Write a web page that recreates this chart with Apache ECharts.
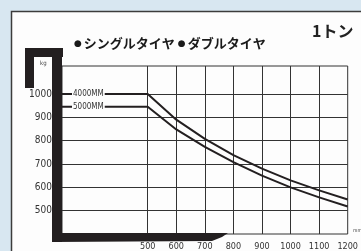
<!DOCTYPE html>
<html>
<head>
<meta charset="utf-8">
<script src="https://cdn.jsdelivr.net/npm/echarts@6/dist/echarts.min.js"></script>
<style>
  html, body { margin: 0; padding: 0; background: #d8e7f1; }
  #chart { width: 361px; height: 251px; }
</style>
</head>
<body>
<div id="chart"></div>
<script>
// 荷重表のデータ
const loadX = [200, 500, 600, 700, 800, 900, 1000, 1100, 1200];
const mm4000 = [1000, 1000, 890, 808, 738, 680, 630, 587, 548];
const mm5000 = [945, 945, 848, 773, 708, 650, 600, 557, 518];
const yGrid = [500, 600, 700, 800, 900, 1000];
const xGrid = [500, 600, 700, 800, 900, 1000, 1100];
const seriesNames = ['4000MM', '5000MM'];

const chart = echarts.init(document.getElementById('chart'), null, { renderer: 'canvas' });
chart.setOption(getOption());

function pairs(values) {
  return loadX.map((x, i) => [x, values[i]]);
}

function lineSeries(name, values) {
  return {
    name: name,
    type: 'line',
    symbol: 'none',
    smooth: false,
    lineStyle: { color: '#231f20', width: 2, join: 'round' },
    data: pairs(values),
    z: 5
  };
}

function getOption() {
  const narrow = '"Liberation Sans Narrow", "DejaVu Sans Condensed", sans-serif';
  const ink = '#231f20';
  const first = lineSeries(seriesNames[0], mm4000);
  // 方眼の線
  first.markLine = {
    silent: true,
    symbol: 'none',
    label: { show: false },
    lineStyle: { color: '#333', width: 1, type: 'solid' },
    data: yGrid.map(v => ({ yAxis: v })).concat(xGrid.map(v => ({ xAxis: v })))
  };
  return {
    backgroundColor: '#d8e7f1',
    animation: false,
    title: [
      {
        text: '{d|●}シングルタイヤ {d|●}ダブルタイヤ',
        left: 69, top: 32,
        textStyle: {
          fontFamily: '"Noto Sans CJK JP"', fontSize: 13, fontWeight: 'bold', color: '#1a1a1a',
          rich: { d: { fontFamily: '"DejaVu Sans"', fontSize: 9, color: '#1a1a1a', padding: [0, 2, 0, 0] } }
        }
      },
      {
        text: '1トン',
        left: 307, top: 18,
        textStyle: { fontFamily: '"Noto Sans CJK JP"', fontSize: 16, fontWeight: 'bold', color: '#222' }
      }
    ],
    grid: {
      left: 62, right: 10, top: 66, bottom: 17,
      show: true, borderColor: '#333', borderWidth: 1
    },
    xAxis: {
      type: 'value',
      min: 200, max: 1200, interval: 100,
      axisLine: { show: false },
      axisTick: { show: false },
      splitLine: { show: false },
      axisLabel: {
        margin: 8,
        fontFamily: narrow, fontSize: 9, color: '#333',
        formatter: v => (v >= 500 ? v : '')
      }
    },
    yAxis: {
      type: 'value',
      min: 400, max: 1120, interval: 100,
      axisLine: { show: false },
      axisTick: { show: false },
      splitLine: { show: false },
      axisLabel: {
        margin: 10,
        fontFamily: narrow, fontSize: 10, color: '#333',
        formatter: v => (v >= 500 && v <= 1000 ? v : '')
      }
    },
    series: [first, lineSeries(seriesNames[1], mm5000)],
    graphic: [
      // 白い台紙
      { type: 'rect', z: -10, shape: { x: 11.5, y: 11.5, width: 400, height: 300 },
        style: { fill: '#fdfdfd', stroke: '#3c3c3c', lineWidth: 1.5 } },
      // kg の枠と太い軸
      { type: 'rect', z: 50, shape: { x: 25, y: 48, width: 38, height: 9 }, style: { fill: ink } },
      { type: 'rect', z: 50, shape: { x: 25, y: 48, width: 9, height: 40 }, style: { fill: ink } },
      { type: 'rect', z: 50, shape: { x: 52, y: 48, width: 10, height: 194 }, style: { fill: ink } },
      { type: 'polygon', z: 50, shape: { points: [[52, 233], [228, 233], [222, 237], [212, 241], [52, 242]] },
        style: { fill: ink } },
      { type: 'text', z: 50, style: { text: 'kg', x: 40, y: 60, fontSize: 6, fill: '#444', fontFamily: narrow } },
      { type: 'text', z: 50, style: { text: 'mm', x: 353, y: 228, fontSize: 5, fill: '#444', fontFamily: narrow } },
      // 系列ラベル
      { type: 'text', z: 50, style: { text: seriesNames[0], x: 72, y: 94, verticalAlign: 'middle',
        fontSize: 8, fill: '#333', fontFamily: narrow, backgroundColor: '#fdfdfd', padding: [0, 1] } },
      { type: 'text', z: 50, style: { text: seriesNames[1], x: 72, y: 107, verticalAlign: 'middle',
        fontSize: 8, fill: '#333', fontFamily: narrow, backgroundColor: '#fdfdfd', padding: [0, 1] } }
    ]
  };
}
</script>
</body>
</html>
